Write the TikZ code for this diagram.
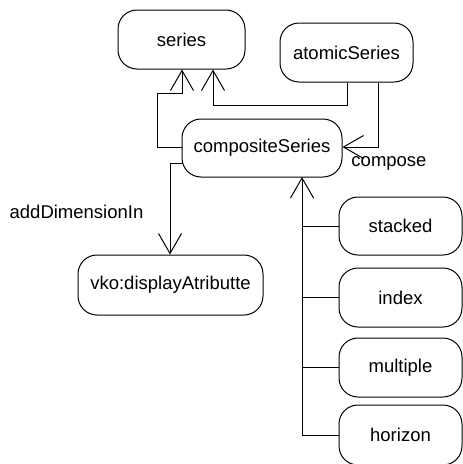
\documentclass[tikz,border=0pt]{standalone}
\usepackage{fontspec}
\setmainfont{Liberation Sans}
\usetikzlibrary{arrows.meta}
\begin{document}
\begin{tikzpicture}[x=1pt,y=-1pt,
  box/.style={draw,line width=1pt,rounded corners=19pt,inner sep=0pt,align=center},
  conn/.style={line width=0.9pt},
  arr/.style={conn,-{Straight Barb[length=20pt,width=23pt,line width=1pt]}},
  lbl/.style={inner sep=0pt}]
\useasboundingbox (0,0) rectangle (463,464);
\fontsize{18.5}{22}\selectfont
\node[box,minimum width=127pt,minimum height=59pt] (series) at (181.5,39.5) {series};
\node[box,minimum width=133pt,minimum height=59pt] (atomic) at (346.5,52.5) {atomicSeries};
\node[box,minimum width=160pt,minimum height=58pt] (composite) at (262,148) {compositeSeries};
\node[box,minimum width=185pt,minimum height=60pt] (vko) at (170.5,285) {vko:displayAtributte};
\node[box,minimum width=123pt,minimum height=58pt] (stacked) at (400.5,226) {stacked};
\node[box,minimum width=123pt,minimum height=59pt] (index) at (400.5,297.5) {index};
\node[box,minimum width=123pt,minimum height=59pt] (multiple) at (400.5,367.5) {multiple};
\node[box,minimum width=123pt,minimum height=60pt] (horizon) at (400.5,435) {horizon};
\node[lbl] (lblcompose) at (389,163) {compose};
\node[lbl] (lbladd) at (76.5,212) {addDimensionIn};
% coordinates
\coordinate (c1) at (157,147);
\coordinate (c2) at (157,93);
\coordinate (s1) at (182,93);
\coordinate (a1) at (347,105);
\coordinate (s2) at (213,105);
\coordinate (v1) at (170,163);
\coordinate (trunk) at (302,177);
% composite -> series
\draw[arr] (composite.west |- c1) -- (c1) -- (c2) -- (s1) -- (s1 |- series.south);
% atomic -> series
\draw[arr] (atomic.south -| a1) -- (a1) -- (s2) -- (s2 |- series.south);
% atomic -> composite (compose)
\draw[arr] (atomic.south -| 378,0) |- (composite.east |- c1);
% composite -> vko
\draw[arr] (composite.west |- v1) -- (v1) -- (v1 |- vko.north);
% trunk
\draw[conn] (stacked.west) -- (stacked.west -| trunk);
\draw[conn] (index.west) -- (index.west -| trunk);
\draw[conn] (multiple.west) -- (multiple.west -| trunk);
\draw[arr] (horizon.west) -| (trunk);
\end{tikzpicture}
\end{document}
